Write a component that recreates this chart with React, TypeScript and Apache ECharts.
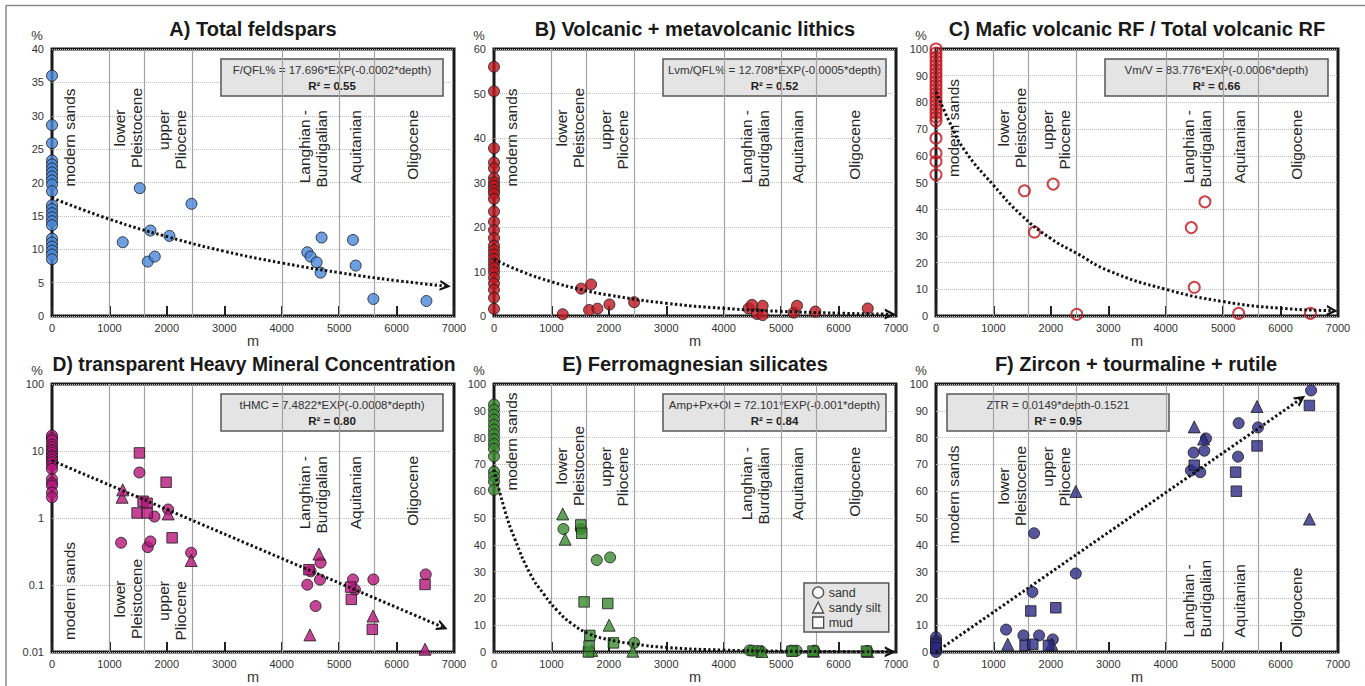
import React, { useEffect, useRef } from "react";
import * as echarts from "echarts";

const FONT = 'Arial, "Liberation Sans", Helvetica, sans-serif';

// ---------- shared ----------
const depthMin = 0;
const depthMax = 7000;
const depthStep = 1000;
const boundaries = [1000, 1610, 2450, 4010, 5005, 5615];
const periodNames = ["modern sands", "lower\nPleistocene", "upper\nPliocene", "Langhian -\nBurdigalian", "Aquitanian", "Oligocene"];
const periodDepths = [313, 1315, 2081, 4545, 5285, 6286];
const legendNames = ["sand", "sandy silt", "mud"];

// ---------- A) Total feldspars ----------
const feldsparModern = [36, 28.6, 25.9, 23.3, 22.7, 22.1, 21.5, 20.9, 20.3, 19.7, 18.7, 16.6, 16.0, 15.4, 14.8, 14.2, 13.6, 11.6, 11.0, 10.4, 9.8, 9.2, 8.5];
const feldsparCores = [[1232, 11.05], [1528, 19.15], [1668, 8.15], [1714, 12.8], [1790, 8.9], [2045, 12.0], [2429, 16.8], [4445, 9.55], [4503, 8.9], [4608, 8.05], [4677, 6.5], [4695, 11.75], [5241, 11.4], [5288, 7.55], [5596, 2.55], [6520, 2.25]];
const feldsparTrend = [[0, 17.7], [1000, 14.5], [2000, 11.9], [3000, 9.7], [4000, 7.95], [5000, 6.5], [6000, 5.3], [6850, 4.5]];

// ---------- B) Volcanic + metavolcanic lithics ----------
const lithicModern = [56, 50.5, 37.7, 34.5, 33.2, 31.0, 30.0, 29.2, 28.3, 27.5, 26.3, 23.5, 21.2, 19.3, 17.5, 15.8, 14.8, 13.8, 12.8, 11.8, 10.8, 9.8, 8.6, 7.3, 5.9, 4.1, 1.6];
const lithicCores = [[1197, 0.4], [1517, 6.15], [1656, 1.35], [1691, 7.1], [1801, 1.65], [2010, 2.6], [2440, 3.1], [4434, 1.7], [4492, 2.5], [4579, 0.45], [4678, 2.3], [4678, 0.2], [5218, 0.75], [5276, 2.3], [5596, 1.0], [6508, 1.7]];
const lithicTrend = [[0, 12.7], [500, 9.9], [1000, 7.7], [1500, 6.0], [2000, 4.7], [3000, 2.85], [4000, 1.72], [5000, 1.04], [6000, 0.63], [6900, 0.4]];

// ---------- C) Mafic volcanic RF / Total volcanic RF ----------
const maficModern = [100, 98.5, 97, 95.5, 94, 92.5, 91, 89.5, 88, 86.5, 85, 83.5, 82, 80.5, 79, 77.5, 76, 74.5, 73, 66.6, 61, 57.9, 52.9];
const maficCores = [[1540, 46.9], [1714, 31.4], [2040, 49.4], [2452, 0.6], [4445, 33.1], [4497, 10.75], [4683, 42.75], [5270, 1.0], [6520, 1.0]];
const maficTrend = [[0, 84], [250, 72], [500, 62], [1000, 49], [1500, 37.5], [2000, 29], [2450, 23.5], [3000, 17], [4000, 10], [5000, 5.4], [6000, 2.9], [6900, 2]];

// ---------- D) transparent Heavy Mineral Concentration ----------
const thmcSandModern = [17, 15.5, 14.3, 12.5, 11.4, 10.3, 9.5, 8.6, 8.1, 7.4, 6.8, 6.1, 5.4, 3.8, 3.3, 3.05, 2.4, 2.04];
const thmcSand = [[1203, 0.427], [1522, 4.77], [1668, 0.367], [1714, 0.447], [1784, 1.05], [2022, 1.34], [2423, 0.303], [4445, 0.101], [4503, 0.16], [4590, 0.0485], [4666, 0.12], [4677, 0.215], [5241, 0.121], [5276, 0.085], [5596, 0.121], [6508, 0.144]];
const thmcSilt = [[1220, 2.04], [1232, 2.63], [2022, 1.15], [2423, 0.232], [4491, 0.018], [4648, 0.29], [5590, 0.0344], [6496, 0.011]];
const thmcMud = [[1482, 1.19], [1522, 9.36], [1586, 1.78], [1656, 1.66], [1656, 1.19], [1987, 3.42], [2092, 0.506], [4474, 0.169], [5200, 0.093], [5212, 0.061], [5578, 0.0218], [6496, 0.102]];
const thmcTrend = [[0, 7.2], [2000, 1.34], [4000, 0.249], [6800, 0.0236]];

// ---------- E) Ferromagnesian silicates ----------
const ferroSandModern = [92.3, 90.4, 88.5, 86.7, 84.8, 83, 81.2, 79.4, 77.6, 75.8, 73, 67.3, 65.5, 63.6, 60.5];
const ferroSand = [[1209, 45.9], [1511, 45.9], [1790, 34.3], [2022, 35.3], [2440, 3.4], [4451, 0.6], [4500, 0.5], [4580, 0.4], [4650, 0.3], [5180, 0.5], [5270, 0.5], [5580, 0.5], [6500, 0.4]];
const ferroSilt = [[1197, 51.5], [1238, 42.1], [1703, 0.6], [2005, 10], [2417, 0.3], [4666, 0.2], [5566, 0.3], [6508, 0.2]];
const ferroMud = [[1511, 47.4], [1528, 44.3], [1569, 18.7], [1644, 0], [1656, 2.2], [1668, 6.2], [1981, 18.1], [2080, 3.4], [5189, 0.3], [5555, 0.3], [6485, 0.3]];
const ferroTrend = [[0, 68], [200, 52], [366, 42], [627, 29.3], [860, 21.8], [1100, 15.5], [1354, 10.6], [1644, 6.9], [2000, 4.6], [2440, 3.0], [3000, 1.7], [4000, 0.7], [5000, 0.3], [6000, 0.15], [6900, 0.05]];

// ---------- F) Zircon + tourmaline + rutile ----------
const ztrSandModern = [5.5, 4.0, 2.5, 1.0, 0];
const ztrSiltModern = [2.0];
const ztrMudModern = [3.0, 1.5];
const ztrSand = [[1220, 8.35], [1522, 6.2], [1679, 22.4], [1708, 44.3], [1795, 6.2], [2034, 4.7], [2435, 29.3], [4439, 67.7], [4486, 74.4], [4602, 67.1], [4672, 75.1], [4701, 79.7], [5259, 72.9], [5270, 85.4], [5607, 83.8], [6531, 97.6]];
const ztrSilt = [[1249, 2.9], [2016, 2.9], [2435, 59.9], [4497, 84], [4660, 79.5], [5590, 91.6], [6502, 49.6]];
const ztrMud = [[1551, 2.5], [1650, 15.3], [1685, 2.9], [1958, 2.5], [2086, 16.5], [4497, 69.7], [5218, 67.1], [5230, 60], [5590, 76.9], [6502, 92]];
const ztrTrend = [[0, 0], [6350, 94.4]];

// ---------- layout ----------
const GRIDS = [
  { left: 52, top: 49, width: 402, height: 267 },
  { left: 494, top: 49, width: 402, height: 267 },
  { left: 936, top: 49, width: 402, height: 267 },
  { left: 52, top: 384, width: 402, height: 268 },
  { left: 494, top: 384, width: 402, height: 268 },
  { left: 936, top: 384, width: 402, height: 268 },
];

const ARROW = "path://M0,10L5,0L10,10L7.8,10L5,4.4L2.2,10Z";

const atZero = (vals: number[]) => vals.map((v) => [0, v]);

const PANELS = [
  {
    title: "A) Total feldspars", cx: 253, cy: 29, ts: 20,
    y: { type: "value", min: 0, max: 40, interval: 5 },
    eq: "F/QFL% = 17.696*EXP(-0.0002*depth)", r2: "0.55", box: [221, 59, 222, 37],
    trend: feldsparTrend,
    pct: [37, 35],
    labelY: [88.5, 79, 61, 61, 61, 61],
    labelAlign: ["center", "center", "right", "right", "right", "right"],
  },
  {
    title: "B) Volcanic + metavolcanic lithics", cx: 695, cy: 29, ts: 20,
    y: { type: "value", min: 0, max: 60, interval: 10 },
    eq: "Lvm/QFL% = 12.708*EXP(-0.0005*depth)", r2: "0.52", box: [663, 59, 223, 37],
    trend: lithicTrend,
    pct: [479, 35],
    labelY: [88.5, 79, 61, 61, 61, 61],
    labelAlign: ["center", "center", "right", "right", "right", "right"],
  },
  {
    title: "C) Mafic volcanic RF / Total volcanic RF", cx: 1137, cy: 29, ts: 20,
    y: { type: "value", min: 0, max: 100, interval: 10 },
    eq: "Vm/V = 83.776*EXP(-0.0006*depth)", r2: "0.66", box: [1105, 59, 223, 37],
    trend: maficTrend,
    pct: [921, 35],
    labelY: [79, 79, 61, 61, 61, 61],
    labelAlign: ["center", "center", "right", "right", "right", "right"],
  },
  {
    title: "D) transparent Heavy Mineral Concentration", cx: 254, cy: 364, ts: 19.3,
    y: { type: "log", min: 0.01, max: 100, logBase: 10 },
    eq: "tHMC = 7.4822*EXP(-0.0008*depth)", r2: "0.80", box: [221, 394, 222, 37],
    trend: thmcTrend,
    pct: [37, 370],
    labelY: [207, 215, 197, 72, 72, 72],
    labelAlign: ["center", "center", "right", "right", "right", "right"],
  },
  {
    title: "E) Ferromagnesian silicates", cx: 695, cy: 364, ts: 20,
    y: { type: "value", min: 0, max: 100, interval: 10 },
    eq: "Amp+Px+Ol = 72.101*EXP(-0.001*depth)", r2: "0.84", box: [663, 394, 223, 37],
    trend: ferroTrend,
    pct: [479, 370],
    labelY: [57.5, 82, 63, 63, 63, 63],
    labelAlign: ["center", "center", "right", "right", "right", "right"],
  },
  {
    title: "F) Zircon + tourmaline + rutile", cx: 1136, cy: 364, ts: 20,
    y: { type: "value", min: 0, max: 100, interval: 10 },
    eq: "ZTR = 0.0149*depth-0.1521", r2: "0.95", box: [947, 394, 222, 37],
    trend: ztrTrend,
    pct: [921, 370],
    labelY: [110.5, 102, 63, 253.5, 253.5, 253.5],
    labelAlign: ["center", "center", "right", "left", "left", "left"],
  },
];

const COLORS = ["#4a87d9", "#c0161f", "#c0161f", "#b5167a", "#3b8a30", "#2c2a85"];

function scatter(name: string, idx: number, symbol: string, size: number, data: number[][], hollow = false) {
  const color = COLORS[idx];
  return {
    type: "scatter",
    name,
    xAxisIndex: idx,
    yAxisIndex: idx,
    data,
    symbol,
    symbolSize: size,
    clip: false,
    silent: true,
    z: 3,
    itemStyle: hollow
      ? { color: "rgba(255,255,255,0)", borderColor: color, borderWidth: 2 }
      : { color, borderColor: "#1a1a1a", borderWidth: 1 },
  };
}

function boundarySeries(idx: number) {
  return {
    type: "line",
    name: "boundaries" + idx,
    xAxisIndex: idx,
    yAxisIndex: idx,
    data: [],
    silent: true,
    z: 1,
    markLine: {
      silent: true,
      z: 1,
      symbol: "none",
      label: { show: false },
      lineStyle: { color: "#a3a3a3", width: 1.2, type: "solid" },
      data: boundaries.map((b) => ({ xAxis: b })),
    },
  };
}

function trendSeries(idx: number, trend: number[][]) {
  const n = trend.length;
  return {
    type: "line",
    name: "trend" + idx,
    xAxisIndex: idx,
    yAxisIndex: idx,
    data: trend,
    smooth: true,
    symbol: "none",
    silent: true,
    z: 4,
    lineStyle: { color: "#111", width: 3, type: [2.4, 2.4] },
    markLine: {
      silent: true,
      z: 6,
      symbol: ["none", ARROW],
      symbolSize: 11,
      label: { show: false },
      lineStyle: { color: "#111", width: 0, type: "solid" },
      data: [[{ coord: trend[n - 2] }, { coord: trend[n - 1] }]],
    },
  };
}

function buildOption() {
  const grid = GRIDS.map((g) => ({ ...g, show: true, borderColor: "#1a1a1a", borderWidth: 3, backgroundColor: "transparent" }));
  const xAxis = GRIDS.map((_, i) => ({
    gridIndex: i,
    type: "value",
    min: depthMin,
    max: depthMax,
    interval: depthStep,
    name: "m",
    nameLocation: "middle",
    nameGap: 11,
    nameTextStyle: { fontSize: 14.5, color: "#333", fontFamily: FONT },
    axisLine: { show: false },
    axisTick: { show: true, inside: true, length: 10, lineStyle: { color: "#222", width: 2 } },
    axisLabel: { fontSize: 11, color: "#333", fontFamily: FONT, margin: 6, formatter: (v: number) => String(v) },
    splitLine: { show: false },
  }));
  const yAxis = PANELS.map((p, i) => ({
    gridIndex: i,
    ...p.y,
    axisLine: { show: false },
    axisTick: { show: false },
    axisLabel: { fontSize: 11, color: "#333", fontFamily: FONT, margin: 8 },
    splitLine: { show: true, lineStyle: { color: "#bdbdbd", width: 1, type: "dotted" } },
  }));

  const series: any[] = [];
  PANELS.forEach((p, i) => series.push(boundarySeries(i)));

  series.push(scatter("feldspars", 0, "circle", 11, [...atZero(feldsparModern), ...feldsparCores]));
  series.push(scatter("lithics", 1, "circle", 11, [...atZero(lithicModern), ...lithicCores]));
  series.push(scatter("mafic", 2, "circle", 11, [...atZero(maficModern), ...maficCores], true));

  series.push(scatter(legendNames[0], 3, "circle", 11, [...atZero(thmcSandModern), ...thmcSand]));
  series.push(scatter(legendNames[1], 3, "triangle", 12, thmcSilt));
  series.push(scatter(legendNames[2], 3, "rect", 10.5, thmcMud));

  series.push(scatter(legendNames[0], 4, "circle", 11, [...atZero(ferroSandModern), ...ferroSand]));
  series.push(scatter(legendNames[1], 4, "triangle", 12, ferroSilt));
  series.push(scatter(legendNames[2], 4, "rect", 10.5, ferroMud));

  series.push(scatter(legendNames[0], 5, "circle", 11, [...atZero(ztrSandModern), ...ztrSand]));
  series.push(scatter(legendNames[1], 5, "triangle", 12, [...atZero(ztrSiltModern), ...ztrSilt]));
  series.push(scatter(legendNames[2], 5, "rect", 10.5, [...atZero(ztrMudModern), ...ztrMud]));

  PANELS.forEach((p, i) => series.push(trendSeries(i, p.trend)));

  const openStyle = { color: "#ffffff", borderColor: "#222", borderWidth: 1.3 };
  return {
    animation: false,
    backgroundColor: "#ffffff",
    textStyle: { fontFamily: FONT },
    grid,
    xAxis,
    yAxis,
    legend: {
      show: true,
      orient: "vertical",
      left: 804,
      top: 583,
      selectedMode: false,
      itemWidth: 11,
      itemHeight: 11,
      itemGap: 0,
      padding: [2, 8, 2, 8],
      backgroundColor: "#e4e4e4",
      borderColor: "#555",
      borderWidth: 1.5,
      textStyle: { fontSize: 12.5, color: "#333", fontFamily: FONT, lineHeight: 15 },
      data: [
        { name: legendNames[0], icon: "circle", itemStyle: openStyle },
        { name: legendNames[1], icon: "triangle", itemStyle: openStyle },
        { name: legendNames[2], icon: "rect", itemStyle: openStyle },
      ],
    },
    series,
  };
}

function staticGraphics() {
  const els: any[] = [];
  els.push({ type: "line", silent: true, shape: { x1: 6, y1: 5.5, x2: 1365, y2: 5.5 }, style: { stroke: "#8a8a8a", lineWidth: 1.5 } });
  els.push({ type: "line", silent: true, shape: { x1: 6, y1: 5.5, x2: 6, y2: 686 }, style: { stroke: "#8a8a8a", lineWidth: 1.5 } });
  PANELS.forEach((p) => {
    els.push({
      type: "text", silent: true, x: p.cx, y: p.cy,
      style: { text: p.title, fontSize: p.ts, fontWeight: "bold", fontFamily: FONT, fill: "#1a1a1a", align: "center", verticalAlign: "middle", textAlign: "center", textVerticalAlign: "middle" },
    });
    els.push({
      type: "text", silent: true, x: p.pct[0], y: p.pct[1],
      style: { text: "%", fontSize: 13, fontFamily: FONT, fill: "#333", align: "center", verticalAlign: "middle", textAlign: "center", textVerticalAlign: "middle" },
    });
    const [bx, by, bw, bh] = p.box;
    els.push({ type: "rect", silent: true, shape: { x: bx, y: by, width: bw, height: bh }, style: { fill: "#e4e4e4", stroke: "#555", lineWidth: 1.5 } });
    els.push({
      type: "text", silent: true, x: bx + bw / 2, y: by + 11,
      style: { text: p.eq, fontSize: 11.5, fontFamily: FONT, fill: "#333", align: "center", verticalAlign: "middle", textAlign: "center", textVerticalAlign: "middle" },
    });
    els.push({
      type: "text", silent: true, x: bx + bw / 2, y: by + 27,
      style: { text: "R\u00B2 = " + p.r2, fontSize: 11.5, fontWeight: "bold", fontFamily: FONT, fill: "#222", align: "center", verticalAlign: "middle", textAlign: "center", textVerticalAlign: "middle" },
    });
  });
  return els;
}

export default function App() {
  const ref = useRef<HTMLDivElement>(null);
  useEffect(() => {
    document.body.style.margin = "0";
    const chart = echarts.init(ref.current as HTMLDivElement, undefined, { renderer: "svg" });
    chart.setOption(buildOption() as any);
    const labels: any[] = [];
    PANELS.forEach((p, i) => {
      periodNames.forEach((txt, j) => {
        const x = chart.convertToPixel({ xAxisIndex: i } as any, periodDepths[j]) as unknown as number;
        const align = p.labelAlign[j];
        labels.push({
          type: "text",
          silent: true,
          x,
          y: GRIDS[i].top + p.labelY[j],
          rotation: Math.PI / 2,
          style: {
            text: txt,
            fontSize: 15.5,
            lineHeight: 17,
            fontFamily: FONT,
            fill: "#262626",
            align,
            verticalAlign: "middle",
            textAlign: align,
            textVerticalAlign: "middle",
          },
        });
      });
    });
    chart.setOption({ graphic: { elements: [...staticGraphics(), ...labels] } } as any);
    return () => chart.dispose();
  }, []);
  return <div ref={ref} style={{ position: "absolute", left: 0, top: 0, width: 1365, height: 686, background: "#fff" }} />;
}
